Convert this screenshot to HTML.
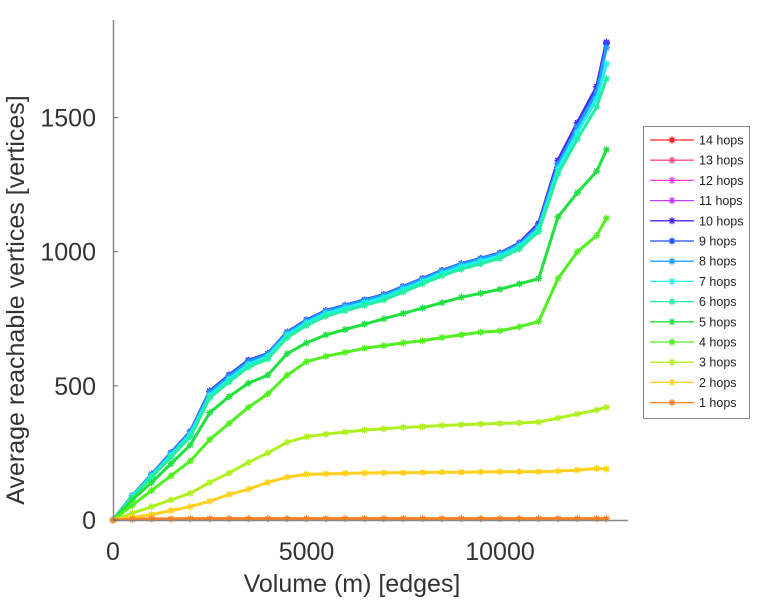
<!DOCTYPE html>
<html><head><meta charset="utf-8"><style>
body{margin:0;background:#fff;width:766px;height:600px;overflow:hidden;font-family:"Liberation Sans",sans-serif}
</style></head><body>
<svg id="chart" width="766" height="600" xmlns="http://www.w3.org/2000/svg">
<defs>
<g id="star"><path d="M-3.5,0H3.5M0,-3.5V3.5M-2.5,-2.5L2.5,2.5M-2.5,2.5L2.5,-2.5" stroke-width="1.3"/></g>
</defs>
<g id="plot"></g>
<g id="axes"></g>
<g id="legend"></g>
</svg>
<script>
const xs=[0,500,1000,1500,2000,2500,3000,3500,4000,4500,5000,5500,6000,6500,7000,7500,8000,8500,9000,9500,10000,10500,11000,11500,12000,12500,12750];
const hops1=[0,3,4,4,5,5,5,5,5,5,5,5,5,5,5,5,5,5,5,5,5,5,5,5,5,5,5];
const hops2=[0,10,20,35,50,70,95,115,140,160,170,172,174,175,176,176,177,178,178,179,180,180,180,182,186,192,190];
const hops3=[0,25,50,75,100,140,175,215,250,290,310,320,328,335,340,345,348,352,355,358,360,362,365,380,395,410,420];
const hops4=[0,55,110,165,220,300,360,420,470,540,590,610,625,640,650,660,668,680,690,700,705,720,740,900,1000,1060,1125];
const hops5=[0,75,140,210,280,400,460,510,540,620,660,690,710,730,750,770,790,810,830,845,860,880,900,1130,1220,1300,1380];
const hops6=[0,85,160,235,310,455,515,570,600,680,725,760,780,800,820,850,880,910,935,955,975,1010,1075,1290,1420,1540,1645];
const hops7=[0,88,165,242,320,465,525,580,610,690,735,770,790,810,830,860,890,920,945,965,985,1020,1085,1310,1445,1570,1700];
const hops8=[0,90,168,248,328,475,535,590,618,698,742,778,798,818,838,868,898,928,953,973,993,1028,1095,1325,1465,1595,1760];
const hops9=[0,90,170,250,330,480,540,595,620,700,745,780,800,820,840,870,900,930,955,975,995,1030,1100,1330,1470,1605,1775];
const hops10=[0,90,170,250,330,480,540,595,620,700,745,780,800,820,840,870,900,930,955,975,995,1032,1105,1340,1480,1615,1780];
const hops11=hops10.slice(),hops12=hops10.slice(),hops13=hops10.slice(),hops14=hops10.slice();
const seriesNames=["14 hops","13 hops","12 hops","11 hops","10 hops","9 hops","8 hops","7 hops","6 hops","5 hops","4 hops","3 hops","2 hops","1 hops"];
const seriesData=[hops14,hops13,hops12,hops11,hops10,hops9,hops8,hops7,hops6,hops5,hops4,hops3,hops2,hops1];
const colors=["#ff2020","#ff4a90","#ff3de0","#c040ff","#5020ff","#2050ff","#20a0ff","#20f0f0","#20f0a0","#20e040","#50f020","#b0f020","#ffd020","#ff8020"];
const xTicks=[0,5000,10000], yTicks=[0,500,1000,1500];
const NS="http://www.w3.org/2000/svg";
const X=v=>113+v*0.0387, Y=v=>520-v*0.2683;
function mk(t,a,p){const e=document.createElementNS(NS,t);for(const k in a)e.setAttribute(k,a[k]);p.appendChild(e);return e;}
const plot=document.getElementById('plot'),axes=document.getElementById('axes'),leg=document.getElementById('legend');
for(let s=0;s<seriesData.length;s++){
  const d=seriesData[s],c=colors[s];
  const g=mk('g',{},plot);
  
  
  const pts=d.map((v,i)=>X(xs[i])+','+Y(v)).join(' ');
  const pl=mk('polyline',{points:pts,fill:'none',stroke:c,'stroke-width':3,'stroke-linejoin':'round'},g);
  
  
  d.forEach((v,i)=>{
    const u=mk('use',{href:'#star',x:X(xs[i]),y:Y(v),stroke:c},g);
    
    
  });
}
const yl=mk('line',{x1:113.5,y1:20,x2:113.5,y2:520,stroke:'#888','stroke-width':1.5},axes);


const xl=mk('line',{x1:113,y1:520.5,x2:628,y2:520.5,stroke:'#888','stroke-width':1.5},axes);


yTicks.forEach(t=>{
  mk('line',{x1:113,x2:118,y1:Y(t),y2:Y(t),stroke:'#666'},axes);
  const tx=mk('text',{x:96,y:Y(t)+9,'text-anchor':'end','font-size':25,fill:'#333'},axes);
  tx.textContent=t;
  
  
});
xTicks.forEach(t=>{
  const tx=mk('text',{x:X(t),y:560,'text-anchor':'middle','font-size':25,fill:'#333'},axes);
  tx.textContent=t;
  
  
});
const xt=mk('text',{x:352,y:592,'text-anchor':'middle','font-size':25,fill:'#333'},axes);
xt.textContent='Volume (m) [edges]';


const yt=mk('text',{x:0,y:0,'text-anchor':'middle','font-size':25,fill:'#333',transform:'translate(24,300) rotate(-90)'},axes);
yt.textContent='Average reachable vertices [vertices]';


const box=mk('rect',{x:643.5,y:126.5,width:106,height:292,fill:'#fff',stroke:'#888'},leg);


seriesNames.forEach((n,i)=>{
  const y=140+i*20.2,c=colors[i];
  const g=mk('g',{},leg);
  
  
  mk('line',{x1:650,x2:694,y1:y,y2:y,stroke:c,'stroke-width':1.3},g);
  mk('use',{href:'#star',x:672,y:y,stroke:c},g);
  const t=mk('text',{x:699,y:y+4.5,'font-size':12.5,fill:'#222'},g);
  t.textContent=n;
});
</script>
</body></html>
